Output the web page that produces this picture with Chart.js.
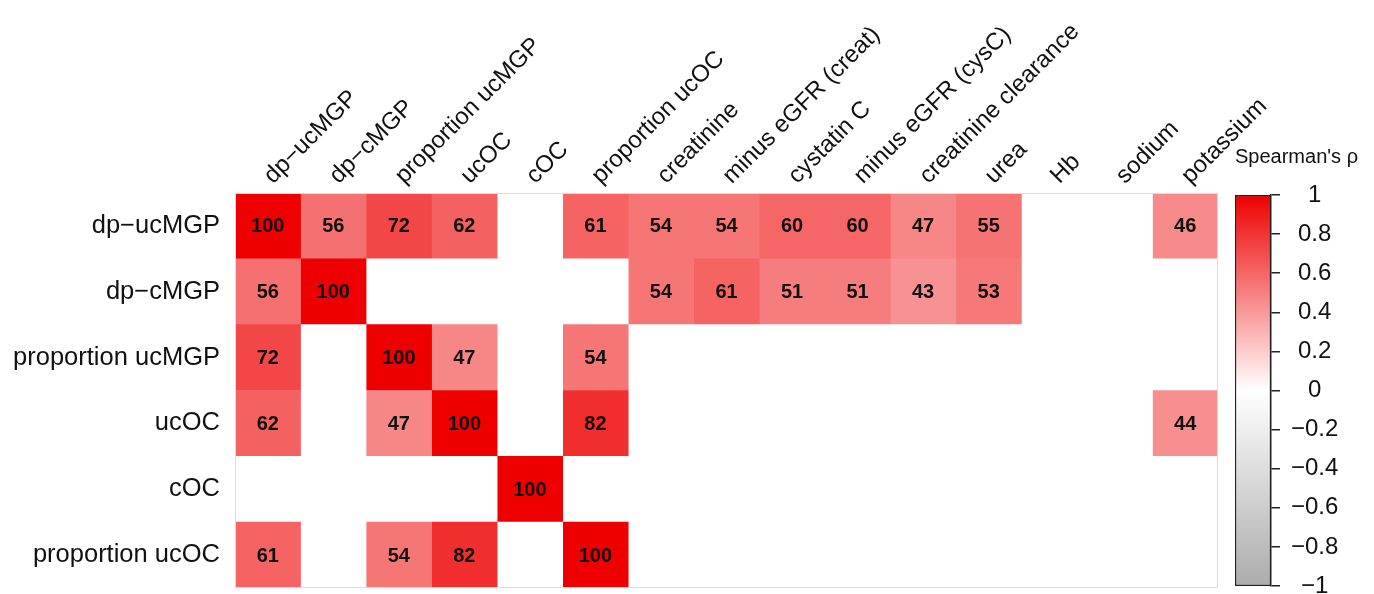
<!DOCTYPE html>
<html>
<head>
<meta charset="utf-8">
<script src="https://cdn.jsdelivr.net/npm/chart.js@4"></script>
<style>
  html, body { margin: 0; padding: 0; background: #fff; overflow: hidden; }
  #wrap { position: relative; width: 1374px; height: 594px; }
  #heatmap { position: absolute; left: 0; top: 0; }
  #colorbar { position: absolute; left: 1225px; top: 0; }
</style>
</head>
<body>
<div id="wrap">
  <canvas id="heatmap" width="1374" height="594"></canvas>
  <canvas id="colorbar" width="149" height="620"></canvas>
</div>
<script>
// Spearman correlation heatmap (rho x 100), blank = not shown

const rowNames = ['dp−ucMGP', 'dp−cMGP', 'proportion ucMGP', 'ucOC', 'cOC', 'proportion ucOC'];
const colNames = ['dp−ucMGP', 'dp−cMGP', 'proportion ucMGP', 'ucOC', 'cOC', 'proportion ucOC',
    'creatinine', 'minus eGFR (creat)', 'cystatin C', 'minus eGFR (cysC)', 'creatinine clearance',
    'urea', 'Hb', 'sodium', 'potassium'];

const rhoDpUcMGP        = [100, 56, 72, 62, null, 61, 54, 54, 60, 60, 47, 55, null, null, 46];
const rhoDpCMGP         = [56, 100, null, null, null, null, 54, 61, 51, 51, 43, 53, null, null, null];
const rhoPropUcMGP      = [72, null, 100, 47, null, 54, null, null, null, null, null, null, null, null, null];
const rhoUcOC           = [62, null, 47, 100, null, 82, null, null, null, null, null, null, null, null, 44];
const rhoCOC            = [null, null, null, null, 100, null, null, null, null, null, null, null, null, null, null];
const rhoPropUcOC       = [61, null, 54, 82, null, 100, null, null, null, null, null, null, null, null, null];
const rhoRows = [rhoDpUcMGP, rhoDpCMGP, rhoPropUcMGP, rhoUcOC, rhoCOC, rhoPropUcOC];

const colorbarTicks = [-1, -0.8, -0.6, -0.4, -0.2, 0, 0.2, 0.4, 0.6, 0.8, 1];

const FONT = "'Liberation Sans', Arial, Helvetica, sans-serif";
Chart.defaults.font.family = FONT;
Chart.defaults.color = '#000';

const RED = [238, 0, 0];
const GREY = [172, 172, 172];
const WHITE = [255, 255, 255];

// linear white->red / white->grey ramp
function rhoColor(rho) {
    const t = Math.min(Math.abs(rho), 1);
    const end = rho >= 0 ? RED : GREY;
    const c = WHITE.map((w, i) => Math.round(w + (end[i] - w) * t));
    return `rgb(${c[0]}, ${c[1]}, ${c[2]})`;
}

// #region cell labels plugin
const cellLabels = {
    id: 'cellLabels',
    afterDatasetsDraw(chart) {
        const ctx = chart.ctx;
        const area = chart.chartArea;
        ctx.save();
        // faint outline round the heatmap body
        ctx.strokeStyle = 'rgba(238, 215, 215, 1)';
        ctx.lineWidth = 1;
        ctx.strokeRect(area.left + 0.5, area.top + 0.5, area.right - area.left - 1, area.bottom - area.top - 1);

        ctx.font = 'bold 20px ' + FONT;
        ctx.fillStyle = '#111';
        ctx.textAlign = 'center';
        ctx.textBaseline = 'middle';
        chart.data.datasets.forEach((ds, c) => {
            chart.getDatasetMeta(c).data.forEach((bar, r) => {
                const v = rhoRows[r][c];
                if (v === null) return;
                const p = bar.getProps(['x', 'base', 'y'], true);
                ctx.fillText(String(v), (p.x + p.base) / 2, p.y + 1);
            });
        });
        ctx.restore();
    }
};
// #endregion

// #region heatmap: one stacked horizontal bar dataset per column
const heatDatasets = colNames.map((name, c) => ({
    label: name,
    data: rowNames.map(() => 1),
    backgroundColor: rowNames.map((_, r) => rhoRows[r][c] === null ? '#ffffff' : rhoColor(rhoRows[r][c] / 100)),
    borderWidth: 0,
    barPercentage: 1,
    categoryPercentage: 1
}));

new Chart(document.getElementById('heatmap'), {
    type: 'bar',
    data: { labels: rowNames, datasets: heatDatasets },
    options: {
        indexAxis: 'y',
        responsive: false,
        animation: false,
        events: [],
        layout: { padding: { top: 0, left: 0, right: 156, bottom: 6 } },
        plugins: { legend: { display: false }, tooltip: { enabled: false } },
        scales: {
            x: { type: 'linear', stacked: true, min: 0, max: colNames.length, display: false },
            y: {
                type: 'category',
                stacked: true,
                grid: { display: false },
                border: { display: false },
                ticks: { font: { size: 25.5 }, color: '#111', padding: 7 },
                afterFit: (scale) => { scale.width = 235; scale.paddingTop = 0; scale.paddingBottom = 0; }
            },
            xTop: {
                type: 'category',
                position: 'top',
                labels: colNames,
                offset: true,
                grid: { display: false },
                border: { display: false },
                ticks: {
                    font: { size: 24 },
                    color: '#111',
                    autoSkip: false,
                    minRotation: 45,
                    maxRotation: 45,
                    padding: -5,
                    labelOffset: 21
                },
                afterFit: (scale) => { scale.height = 193; scale.paddingLeft = 0; scale.paddingRight = 0; }
            }
        }
    },
    plugins: [cellLabels]
});
// #endregion

// #region colour bar legend
new Chart(document.getElementById('colorbar'), {
    type: 'bar',
    data: {
        labels: [''],
        datasets: [{
            data: [[colorbarTicks[0], colorbarTicks[colorbarTicks.length - 1]]],
            backgroundColor: (c) => {
                const { ctx, chartArea } = c.chart;
                if (!chartArea) return '#fff';
                const g = ctx.createLinearGradient(0, chartArea.bottom, 0, chartArea.top);
                g.addColorStop(0, rhoColor(-1));
                g.addColorStop(0.5, rhoColor(0));
                g.addColorStop(1, rhoColor(1));
                return g;
            },
            borderColor: '#222',
            borderWidth: 1.5,
            borderSkipped: false,
            barPercentage: 1,
            categoryPercentage: 1
        }]
    },
    options: {
        responsive: false,
        animation: false,
        events: [],
        layout: { padding: { top: 0, left: 10, right: 0, bottom: 34 } },
        plugins: {
            legend: { display: false },
            tooltip: { enabled: false },
            title: {
                display: true,
                text: "Spearman's ρ",
                align: 'start',
                color: '#111',
                font: { size: 20, weight: 'normal' },
                padding: { top: 145, bottom: 26 }
            }
        },
        scales: {
            x: { display: false },
            y: {
                min: -1,
                max: 1,
                position: 'right',
                grid: { drawOnChartArea: false, drawTicks: true, tickLength: 9, color: '#222', lineWidth: 1.5 },
                border: { display: true, color: '#222', width: 1.5 },
                afterBuildTicks: (scale) => { scale.ticks = colorbarTicks.map(v => ({ value: v })); },
                ticks: {
                    font: { size: 24 },
                    color: '#111',
                    crossAlign: 'center',
                    padding: 11,
                    callback: (v) => {
                        const s = Math.round(v * 10) / 10;
                        return s < 0 ? '−' + String(-s) : String(s);
                    }
                },
                afterFit: (scale) => { scale.width = 103; }
            }
        }
    }
});
// #endregion
</script>
</body>
</html>
